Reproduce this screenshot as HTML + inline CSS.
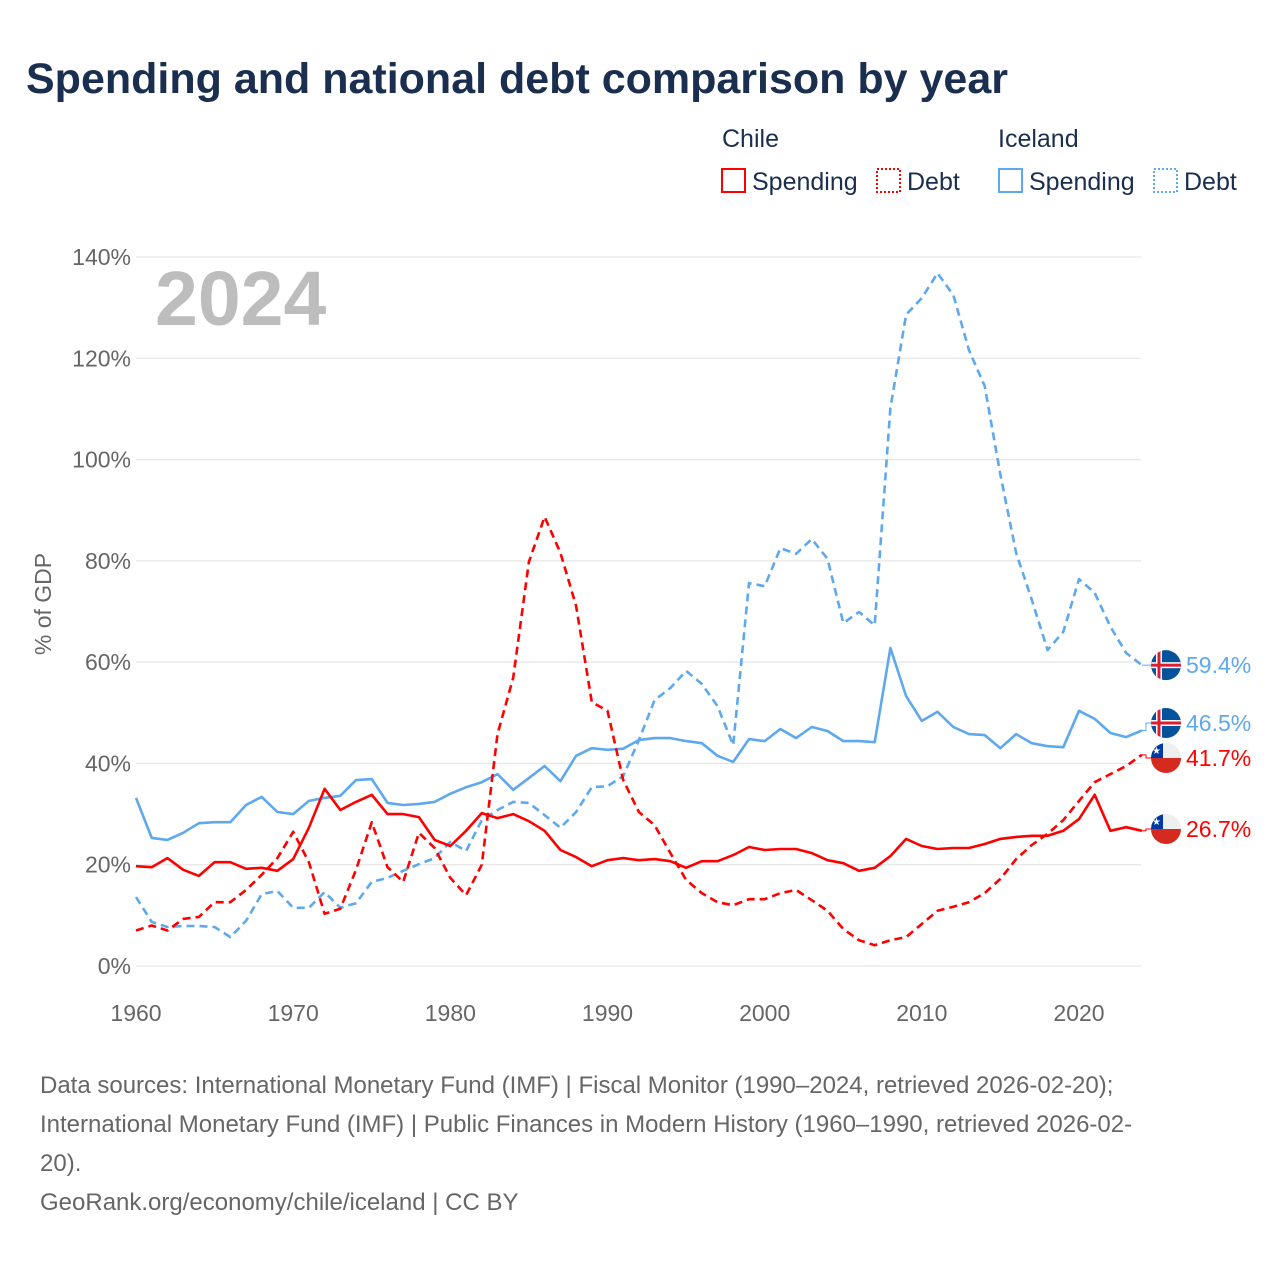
<!DOCTYPE html>
<html><head><meta charset="utf-8"><style>
body{margin:0;background:#fff;}
svg{display:block;font-family:"Liberation Sans",sans-serif;}
</style></head><body>
<svg width="1280" height="1280" viewBox="0 0 1280 1280">
<text x="26" y="93" font-size="43" font-weight="bold" fill="#1a2e4f">Spending and national debt comparison by year</text>
<g font-size="25" fill="#1a2e4f">
<text x="722" y="147">Chile</text>
<text x="998" y="147">Iceland</text>
<g><rect x="722" y="169" width="23" height="23" fill="none" stroke="#f00" stroke-width="2"/><text x="752" y="190">Spending</text></g>
<g><rect x="877" y="169" width="23" height="23" fill="none" stroke="#f00" stroke-width="2" stroke-dasharray="2,2"/><text x="907" y="190">Debt</text></g>
<g><rect x="999" y="169" width="23" height="23" fill="none" stroke="#5ea8ee" stroke-width="2"/><text x="1029" y="190">Spending</text></g>
<g><rect x="1154" y="169" width="23" height="23" fill="none" stroke="#5ea8ee" stroke-width="2" stroke-dasharray="2,2"/><text x="1184" y="190">Debt</text></g>
</g>
<g id="grid"></g>
<text x="155" y="325" font-size="77" font-weight="bold" fill="#bdbdbd">2024</text>
<text transform="translate(51,604) rotate(-90)" text-anchor="middle" font-size="23" fill="#666">% of GDP</text>
<g id="series"></g>
<g id="endlabels"></g>
<g font-size="24" fill="#666">
<text x="40" y="1093">Data sources: International Monetary Fund (IMF) | Fiscal Monitor (1990–2024, retrieved 2026-02-20);</text>
<text x="40" y="1132">International Monetary Fund (IMF) | Public Finances in Modern History (1960–1990, retrieved 2026-02-</text>
<text x="40" y="1171">20).</text>
<text x="40" y="1210">GeoRank.org/economy/chile/iceland | CC BY</text>
</g>
</svg>
<script>
const startYear = 1960;
const yTicks = [0,20,40,60,80,100,120,140];
const xTicks = [1960,1970,1980,1990,2000,2010,2020];
const chileSpending = [19.7,19.5,21.3,19,17.8,20.5,20.5,19.2,19.4,18.8,21.1,27.3,35,30.8,32.4,33.8,30,30,29.4,24.9,23.7,26.7,30.2,29.2,30,28.6,26.7,22.9,21.5,19.7,20.9,21.3,20.9,21.1,20.7,19.4,20.7,20.7,21.9,23.5,22.9,23.1,23.1,22.3,20.9,20.3,18.8,19.4,21.7,25.1,23.7,23.1,23.3,23.3,24.1,25.1,25.5,25.7,25.7,26.7,29,33.8,26.7,27.4,26.7];
const chileDebt = [7,8,7,9.3,9.7,12.6,12.6,15,18,21.3,26.5,20.5,10.3,11.3,19,28.4,19.5,16.6,26.3,23.3,17.4,14,20,45.8,56.9,79.8,88.7,81.6,71.1,52.1,50.4,36.7,30.4,27.8,22.3,17,14.4,12.6,12,13.2,13.2,14.4,15,13,10.9,7.3,5.1,4.1,5.1,5.7,8.3,10.9,11.7,12.6,14.4,17.2,21.1,23.9,26.1,28.8,32.6,36.3,37.9,39.5,41.7];
const icelandSpending = [33.2,25.3,24.9,26.3,28.2,28.4,28.4,31.8,33.4,30.4,30,32.6,33.2,33.6,36.7,36.9,32.2,31.8,32,32.4,34,35.3,36.3,37.9,34.8,37.1,39.5,36.5,41.5,43,42.7,42.9,44.6,45,45,44.4,44,41.5,40.3,44.8,44.4,46.8,45,47.2,46.4,44.4,44.4,44.2,62.8,53.3,48.4,50.2,47.2,45.8,45.6,43,45.8,44,43.4,43.2,50.4,48.8,46,45.2,46.5];
const icelandDebt = [13.6,8.7,7.7,7.9,7.9,7.7,5.7,8.9,14.2,14.8,11.5,11.5,14.6,11.5,12.4,16.6,17.4,18.8,20.1,21.3,24.5,22.7,28.8,30.8,32.4,32.2,29.8,27.3,30.4,35.3,35.5,37.5,44.6,52.5,54.9,58.3,55.7,51.3,43.6,75.6,75,82.5,81.4,84.3,80.4,67.7,69.9,67.3,110.2,128.6,131.9,136.8,132.5,121.6,114.5,97,81.6,72.3,62.4,66,76.4,73.7,67,61.8,59.4];

const NS='http://www.w3.org/2000/svg';
const xS = yr => 136 + (yr-1960)*(1079-136)/60;
const yS = v => 966 - v*(966-257)/140;
function mk(tag, attrs, parent){const e=document.createElementNS(NS,tag);for(const k in attrs)e.setAttribute(k,attrs[k]);parent.appendChild(e);return e;}
const grid=document.getElementById('grid');
yTicks.forEach(t=>{
  const l=mk('line',{x1:136,x2:1141,y1:yS(t),y2:yS(t),stroke:'#e6e6e6','stroke-width':1.3},grid);
  
  
  const tx=mk('text',{x:131,y:yS(t)+8,'text-anchor':'end','font-size':23,fill:'#666'},grid);
  tx.textContent=t+'%';
  
  
});
xTicks.forEach(t=>{
  const tx=mk('text',{x:xS(t),y:1021,'text-anchor':'middle','font-size':23,fill:'#666'},grid);
  tx.textContent=t;
  
  
});
const ser=document.getElementById('series');
function line(data,color,dash,name){
  const pts=data.map((v,i)=>xS(startYear+i).toFixed(1)+','+yS(v).toFixed(1)).join(' ');
  const p=mk('polyline',{points:pts,fill:'none',stroke:color,'stroke-width':2.6,'stroke-linejoin':'round'},ser);
  if(dash)p.setAttribute('stroke-dasharray','8,5');
  
  
}
line(icelandDebt,'#5ea8ee',true,'iceland-debt-line');
line(icelandSpending,'#5ea8ee',false,'iceland-spending-line');
line(chileDebt,'#f00',true,'chile-debt-line');
line(chileSpending,'#f00',false,'chile-spending-line');

const el=document.getElementById('endlabels');
function flag(cy,country){
  const g=mk('g',{},el);
  
  
  const id='c'+Math.round(cy);
  const cp=mk('clipPath',{id:id},g);mk('circle',{cx:1166,cy:cy,r:15},cp);
  const inner=mk('g',{'clip-path':'url(#'+id+')'},g);
  if(country==='iceland'){
    mk('rect',{x:1150,y:cy-16,width:32,height:32,fill:'#02529c'},inner);
    mk('rect',{x:1156,y:cy-16,width:6,height:32,fill:'#fff'},inner);
    mk('rect',{x:1150,y:cy-3,width:32,height:6,fill:'#fff'},inner);
    mk('rect',{x:1157.5,y:cy-16,width:3,height:32,fill:'#dc1e35'},inner);
    mk('rect',{x:1150,y:cy-1.5,width:32,height:3,fill:'#dc1e35'},inner);
  } else {
    mk('rect',{x:1150,y:cy-16,width:32,height:16,fill:'#eee'},inner);
    mk('rect',{x:1150,y:cy-16,width:13,height:16,fill:'#0039a6'},inner);
    mk('rect',{x:1150,y:cy,width:32,height:16,fill:'#d52b1e'},inner);
    const s=mk('text',{x:1156.5,y:cy-4,'text-anchor':'middle','font-size':10,fill:'#fff'},inner);s.textContent='★';
  }
}
const ends=[
 [icelandDebt,'#5ea8ee','iceland',yS(icelandDebt[64])],
 [icelandSpending,'#5ea8ee','iceland',723],
 [chileDebt,'#f00','chile',758],
 [chileSpending,'#f00','chile',829]
];
ends.forEach(([d,c,country,ly])=>{
  const v=d[d.length-1];
  const cn=mk('polyline',{points:`${xS(2024)},${yS(v)} 1146,${yS(v)} 1146,${ly} 1151,${ly}`,fill:'none',stroke:c,'stroke-width':1},el);
  
  
  flag(ly,country);
  const t=mk('text',{x:1186,y:ly+8,'font-size':23,fill:c},el);
  t.textContent=v.toFixed(1)+'%';
  
  
});
</script>
</body></html>
